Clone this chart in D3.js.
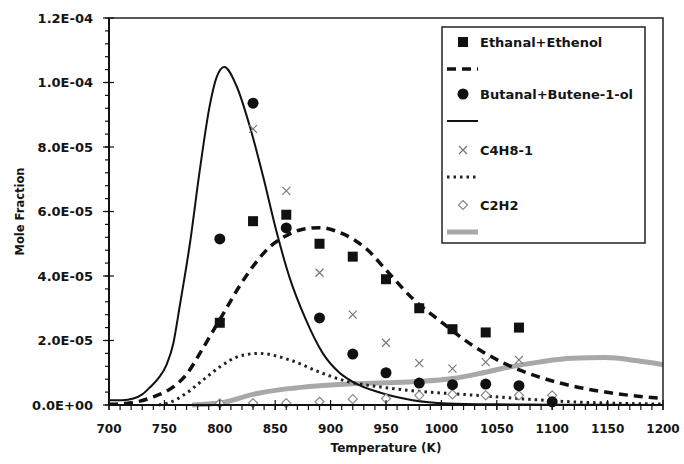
<!DOCTYPE html>
<html>
<head>
<meta charset="utf-8">
<script src="https://cdn.jsdelivr.net/npm/d3@7"></script>
<style>
  body { margin: 0; background: #fff; }
  text { font-family: "DejaVu Sans", sans-serif; font-weight: bold; fill: #151515; }
</style>
</head>
<body>
<div id="chart"></div>
<script>
// measured points (values in 1e-5 mole fraction)
var expT = [800, 830, 860, 890, 920, 950, 980, 1010, 1040, 1070];
var ethanalPts = [2.55, 5.7, 5.9, 5.0, 4.6, 3.9, 3.0, 2.35, 2.25, 2.4];
var butanalT = [800, 830, 860, 890, 920, 950, 980, 1010, 1040, 1070, 1100];
var butanalPts = [5.15, 9.36, 5.49, 2.7, 1.58, 1.0, 0.68, 0.63, 0.65, 0.6, 0.1];
var c4h8T = [830, 860, 890, 920, 950, 980, 1010, 1040, 1070];
var c4h8Pts = [8.56, 6.64, 4.1, 2.8, 1.93, 1.3, 1.13, 1.33, 1.4];
var c2h2T = [800, 830, 860, 890, 920, 950, 980, 1010, 1040, 1070, 1100];
var c2h2Pts = [0.05, 0.06, 0.06, 0.1, 0.18, 0.2, 0.3, 0.33, 0.3, 0.3, 0.3];

// model curves
var ethanalModT = [700, 715, 728, 740, 758, 770, 782, 794, 806, 818, 830, 845, 860, 875, 890, 906, 920, 933, 951, 974, 999, 1028, 1058, 1088, 1118, 1148, 1200];
var ethanalModV = [0.02, 0.05, 0.12, 0.25, 0.56, 0.95, 1.6, 2.3, 3.0, 3.7, 4.3, 4.9, 5.25, 5.45, 5.5, 5.38, 5.15, 4.82, 4.15, 3.3, 2.6, 1.85, 1.27, 0.87, 0.59, 0.4, 0.2];
var butanalModT = [700, 712, 722, 730, 737, 745, 752, 758, 764, 773, 782, 791, 797, 804, 815, 827, 839, 851, 863, 877, 893, 908, 920, 945, 974, 1005, 1050, 1100, 1200];
var butanalModV = [0.15, 0.15, 0.2, 0.33, 0.55, 0.85, 1.25, 1.9, 3.1, 5.0, 7.3, 9.3, 10.15, 10.48, 9.9, 8.65, 7.1, 5.4, 3.95, 2.7, 1.6, 1.0, 0.72, 0.38, 0.15, 0.05, 0.02, 0.01, 0.0];
var c4h8ModT = [745, 755, 770, 785, 800, 818, 835, 863, 890, 915, 945, 974, 1010, 1040, 1070, 1100, 1150, 1200];
var c4h8ModV = [0.0, 0.08, 0.37, 0.78, 1.18, 1.52, 1.6, 1.4, 1.02, 0.73, 0.56, 0.44, 0.35, 0.28, 0.2, 0.13, 0.06, 0.03];
var c2h2ModT = [775, 800, 830, 860, 890, 920, 950, 980, 1010, 1035, 1060, 1088, 1118, 1148, 1177, 1200];
var c2h2ModV = [0.0, 0.06, 0.33, 0.5, 0.6, 0.66, 0.69, 0.73, 0.82, 0.98, 1.17, 1.33, 1.45, 1.47, 1.37, 1.25];

var yTicks = [0, 2e-5, 4e-5, 6e-5, 8e-5, 1e-4, 1.2e-4];
var xTicks = [700, 750, 800, 850, 900, 950, 1000, 1050, 1100, 1150, 1200];

var W = 684, H = 464;
var m = { left: 109, top: 18, right: 21, bottom: 59 };
var w = W - m.left - m.right, h = H - m.top - m.bottom;

var svg = d3.select('#chart').append('svg').attr('width', W).attr('height', H);
var g = svg.append('g').attr('transform', 'translate(' + m.left + ',' + m.top + ')');

var x = d3.scaleLinear().domain([700, 1200]).range([0, w]);
var y = d3.scaleLinear().domain([0, 1.2e-4]).range([h, 0]);

// 1.2E-04 style labels
function sci(v) {
	if (v === 0) return '0.0E+00';
	var s = d3.format('.1e')(v).split('e');
	var ex = +s[1];
	return s[0] + 'E' + (ex < 0 ? '-' : '+') + d3.format('02d')(Math.abs(ex));
}

var pairs = function (ts, vs) {
	return ts.map(function (t, i) { return [t, vs[i] * 1e-5]; });
};

var line = d3.line()
	.x(function (d) { return x(d[0]); })
	.y(function (d) { return y(d[1]); })
	.curve(d3.curveMonotoneX);

var plot = g.append('g');

// gray model (C2H2)
plot.append('path').datum(pairs(c2h2ModT, c2h2ModV))
	.attr('d', line).attr('fill', 'none').attr('stroke', '#a8a8a8').attr('stroke-width', 5);
// dotted model (C4H8-1)
plot.append('path').datum(pairs(c4h8ModT, c4h8ModV))
	.attr('d', line).attr('fill', 'none').attr('stroke', '#222').attr('stroke-width', 3)
	.attr('stroke-dasharray', '2.5,4');
// dashed model (ethanal)
plot.append('path').datum(pairs(ethanalModT, ethanalModV))
	.attr('d', line).attr('fill', 'none').attr('stroke', '#111').attr('stroke-width', 3.5)
	.attr('stroke-dasharray', '9,6');
// solid model (butanal)
plot.append('path').datum(pairs(butanalModT, butanalModV))
	.attr('d', line).attr('fill', 'none').attr('stroke', '#111').attr('stroke-width', 2);

// markers
function drawMarker(sel, type) {
	if (type === 'square') {
		sel.append('rect').attr('x', -5).attr('y', -5).attr('width', 10).attr('height', 10).attr('fill', '#111');
	} else if (type === 'circle') {
		sel.append('circle').attr('r', 5.5).attr('fill', '#111');
	} else if (type === 'cross') {
		sel.append('path').attr('d', 'M-4,-4L4,4M-4,4L4,-4').attr('stroke', '#777').attr('stroke-width', 1.2).attr('fill', 'none');
	} else if (type === 'diamond') {
		sel.append('path').attr('d', 'M0,-4.5L4.5,0L0,4.5L-4.5,0Z').attr('stroke', '#888').attr('stroke-width', 1.2).attr('fill', '#fff');
	}
}

function drawPoints(ts, vs, type) {
	plot.append('g').selectAll('g').data(pairs(ts, vs)).enter().append('g')
		.attr('transform', function (d) { return 'translate(' + x(d[0]) + ',' + y(d[1]) + ')'; })
		.each(function () { drawMarker(d3.select(this), type); });
}
drawPoints(c2h2T, c2h2Pts, 'diamond');
drawPoints(c4h8T, c4h8Pts, 'cross');
drawPoints(expT, ethanalPts, 'square');
drawPoints(butanalT, butanalPts, 'circle');

// frame: top and right border
g.append('path').attr('d', 'M0,0H' + w + 'V' + h).attr('fill', 'none').attr('stroke', '#222').attr('stroke-width', 1.5);

// axes
var xAxis = g.append('g').attr('transform', 'translate(0,' + h + ')');
xAxis.append('line').attr('x1', 0).attr('x2', w).attr('stroke', '#111').attr('stroke-width', 2);
xAxis.selectAll('.minor').data(d3.range(700, 1201, 10)).enter().append('line')
	.attr('x1', x).attr('x2', x).attr('y1', 0).attr('y2', 5).attr('stroke', '#111').attr('stroke-width', 1.2);
xAxis.selectAll('.major').data(xTicks).enter().append('line')
	.attr('x1', x).attr('x2', x).attr('y1', -5).attr('y2', 5).attr('stroke', '#111').attr('stroke-width', 1.2);
xAxis.selectAll('text').data(xTicks).enter().append('text')
	.attr('x', x).attr('y', 28).attr('text-anchor', 'middle').style('font-size', '12px')
	.text(function (d) { return d; });

var yAxis = g.append('g');
yAxis.append('line').attr('y1', 0).attr('y2', h).attr('stroke', '#111').attr('stroke-width', 2);
yAxis.selectAll('.minor').data(d3.range(0, 31).map(function (i) { return i * 4e-6; })).enter().append('line')
	.attr('y1', y).attr('y2', y).attr('x1', -4).attr('x2', 0).attr('stroke', '#111').attr('stroke-width', 1.2);
yAxis.selectAll('.major').data(yTicks).enter().append('line')
	.attr('y1', y).attr('y2', y).attr('x1', -6).attr('x2', 5).attr('stroke', '#111').attr('stroke-width', 1.2);
yAxis.selectAll('text').data(yTicks).enter().append('text')
	.attr('x', -16).attr('y', y).attr('dy', '0.36em').attr('text-anchor', 'end').style('font-size', '13px')
	.text(sci);

// axis titles
svg.append('text').attr('x', m.left + w / 2).attr('y', 452).attr('text-anchor', 'middle')
	.style('font-size', '12px').text('Temperature (K)');
svg.append('text').attr('transform', 'translate(24,' + (m.top + h / 2) + ') rotate(-90)')
	.attr('text-anchor', 'middle').style('font-size', '11.5px').text('Mole Fraction');

// legend
var legend = svg.append('g').attr('transform', 'translate(442,27)');
legend.append('rect').attr('width', 203).attr('height', 216).attr('fill', '#fff')
	.attr('stroke', '#222').attr('stroke-width', 1.5);
var legItems = [
	{ type: 'square', label: 'Ethanal+Ethenol', y: 15 },
	{ line: { w: 3.5, dash: '9,6', c: '#111' }, y: 42 },
	{ type: 'circle', label: 'Butanal+Butene-1-ol', y: 67 },
	{ line: { w: 2, dash: null, c: '#111' }, y: 94 },
	{ type: 'cross', label: 'C4H8-1', y: 123 },
	{ line: { w: 3, dash: '2.5,4', c: '#222' }, y: 150 },
	{ type: 'diamond', label: 'C2H2', y: 178 },
	{ line: { w: 5, dash: null, c: '#a8a8a8' }, y: 205 }
];
legItems.forEach(function (it) {
	if (it.type) {
		drawMarker(legend.append('g').attr('transform', 'translate(21,' + it.y + ')'), it.type);
		legend.append('text').attr('x', 38).attr('y', it.y).attr('dy', '0.36em')
			.style('font-size', '13px').text(it.label);
	} else {
		legend.append('line').attr('x1', 5).attr('x2', 36).attr('y1', it.y).attr('y2', it.y)
			.attr('stroke', it.line.c).attr('stroke-width', it.line.w)
			.attr('stroke-dasharray', it.line.dash);
	}
});
</script>
</body>
</html>
